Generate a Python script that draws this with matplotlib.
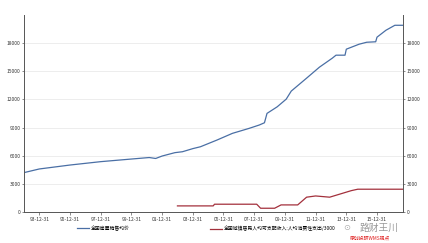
import pandas as pd
import matplotlib
matplotlib.use("Agg")
from matplotlib import pyplot as plt
import matplotlib.dates as mdates

plt.rcParams['font.family'] = ['Noto Sans CJK SC', 'DejaVu Sans']

# blue series (left axis)
blue_dates = ["1993-01", "1994-01", "1996-01", "1998-01", "2000-01", "2001-03",
              "2001-08", "2002-01", "2002-11", "2003-05", "2004-01", "2004-07",
              "2005-08", "2006-08", "2007-09", "2008-05", "2008-09", "2008-11",
              "2009-07", "2010-02", "2010-06", "2011-06", "2012-04", "2013-02",
              "2013-05", "2013-12", "2014-01", "2014-11", "2015-05", "2015-12",
              "2016-01", "2016-08", "2017-03", "2017-09"]
blue_vals = [4190, 4580, 5000, 5360, 5640, 5800,
             5700, 5960, 6320, 6420, 6750, 6950,
             7670, 8380, 8910, 9270, 9510, 10510,
             11210, 12030, 12890, 14270, 15440, 16400,
             16720, 16720, 17360, 17890, 18100, 18150,
             18640, 19380, 19910, 19910]

# red series (right axis)
red_dates = ["2003-01", "2005-05", "2005-06", "2008-03", "2008-06", "2009-05",
             "2009-10", "2010-11", "2011-06", "2012-01", "2012-12", "2014-05",
             "2014-10", "2017-09"]
red_vals = [640, 640, 820, 820, 390, 390,
            745, 745, 1570, 1700, 1570, 2270,
            2420, 2420]

blue_label = "全国房屋销售均价"
red_label = "全国城镇居民人均可支配收入:人均消费性支出/3000"
yticks = [0, 3000, 6000, 9000, 12000, 15000, 18000]
xtick_years = list(range(1993, 2016, 2))

blue_x = pd.to_datetime(blue_dates)
red_x = pd.to_datetime(red_dates)

fig = plt.figure(figsize=(4.28, 2.43), dpi=100)
ax = fig.add_axes([0.056, 0.128, 0.886, 0.81])
ax2 = ax.twinx()

l1, = ax.plot(blue_x, blue_vals, color="#4a6fa5", lw=0.9)
l2, = ax2.plot(red_x, red_vals, color="#a3303c", lw=0.9)

for a in (ax, ax2):
    a.set_ylim(0, 21000)
    a.set_yticks(yticks)
    a.set_yticklabels([str(v) for v in yticks])
    a.tick_params(axis="y", labelsize=3.5, length=1.5, width=0.4, pad=1, colors="#333333")
    for s in a.spines.values():
        s.set_visible(False)

ax.spines["left"].set_visible(True)
ax.spines["bottom"].set_visible(True)
ax2.spines["right"].set_visible(True)
for s in (ax.spines["left"], ax.spines["bottom"], ax2.spines["right"]):
    s.set_color("#555555")
    s.set_linewidth(0.7)

ax.grid(axis="y", color="#e6e6e6", lw=0.5)
ax.set_axisbelow(True)

ax.set_xlim(pd.Timestamp("1993-01-01"), pd.Timestamp("2017-09-15"))
ax.set_xticks([pd.Timestamp(f"{y}-12-31") for y in xtick_years])
ax.xaxis.set_major_formatter(mdates.DateFormatter("%y-%m-%d"))
ax.tick_params(axis="x", labelsize=3.5, length=2, width=0.4, pad=1.5, colors="#333333")

fig.legend([l1], [blue_label], loc="center left", bbox_to_anchor=(0.17, 0.06),
           frameon=False, fontsize=3.5, handlelength=2.5, handletextpad=0.3)
fig.legend([l2], [red_label], loc="center left", bbox_to_anchor=(0.48, 0.06),
           frameon=False, fontsize=3.5, handlelength=2.5, handletextpad=0.3)

fig.text(0.81, 0.062, "⊙", fontsize=6, color="#b0b0b0", ha="center", va="center",
         family=["DejaVu Sans"])
fig.text(0.885, 0.062, "路财王川", fontsize=7, color="#9a9a9a", ha="center", va="center")
fig.text(0.865, 0.022, "原创投研WMS观点", fontsize=3.5, color="#e02020", ha="center", va="center")

fig.savefig("out.png", dpi=100)
